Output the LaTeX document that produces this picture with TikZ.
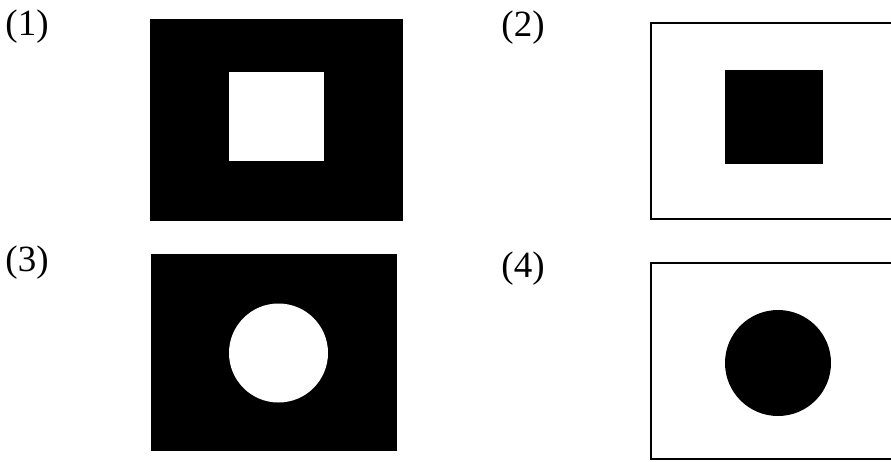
\documentclass[tikz,border=0pt]{standalone}
\usepackage{fontspec}
\setmainfont{Liberation Serif}
\begin{document}
\begin{tikzpicture}[x=1pt,y=-1pt,
  lbl/.style={font=\fontsize{37}{42}\selectfont, inner sep=0pt, anchor=center},
  frame/.style={draw=black, line width=2pt, fill=white},
  solid/.style={fill=black}]
\useasboundingbox (0,0) rectangle (891,461);
\clip (0,0) rectangle (891,461);
\fill[white] (0,0) rectangle (891,461);
% labels
\node[lbl] (l1) at (27,27) {(1)};
\node[lbl] (l2) at (523,28) {(2)};
\node[lbl] (l3) at (27,263) {(3)};
\node[lbl] (l4) at (523,269) {(4)};
% (1)
\fill[solid] (150,19) rectangle (403,221);
\fill[white] (229,72) rectangle (324,161);
% (2)
\draw[frame] (651,23) rectangle (900,219);
\fill[solid] (725,70) rectangle (823,164);
% (3)
\fill[solid] (151,254) rectangle (397,451);
\fill[white] (278.5,353) circle (49.5);
% (4)
\draw[frame] (651,263) rectangle (900,459);
\fill[solid] (778,363) circle (53);
\end{tikzpicture}
\end{document}
